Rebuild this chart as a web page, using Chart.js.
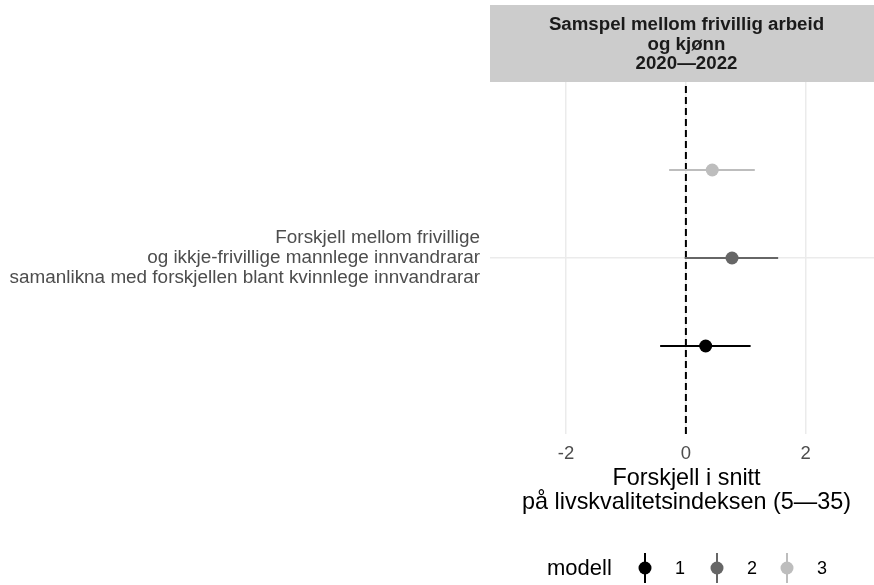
<!DOCTYPE html>
<html>
<head>
<meta charset="utf-8">
<script src="https://cdn.jsdelivr.net/npm/chart.js@4"></script>
<style>
  body { margin: 0; background: #fff; overflow: hidden; }
  /* the panel runs a few pixels past the window's right edge, as in the original */
  #wrap { width: 883px; height: 585px; position: relative; }
</style>
</head>
<body>
<div id="wrap"><canvas id="chart"></canvas></div>
<script>
// Data
const models = ['1', '2', '3'];
const estimates = [0.33, 0.77, 0.44];
const lower = [-0.43, -0.02, -0.28];
const upper = [1.08, 1.54, 1.15];
const xTicks = [-2, 0, 2];
const categoryLabel = [
  'Forskjell mellom frivillige',
  'og ikkje-frivillige mannlege innvandrarar',
  'samanlikna med forskjellen blant kvinnlege innvandrarar'
];
const stripLines = ['Samspel mellom frivillig arbeid', 'og kjønn', '2020\u20142022'];
const xTitle = ['Forskjell i snitt', 'på livskvalitetsindeksen (5\u201435)'];
const legendTitle = 'modell';

// styling
const modelColors = ['#000000', '#666666', '#bdbdbd'];
const dodge = [-0.3, 0, 0.3];
const FONT = "'Liberation Sans', Arial, sans-serif";

const datasets = [];
models.forEach((m, i) => {
  datasets.push({
    type: 'scatter',
    label: m,
    data: [{ x: estimates[i], y: 1 + dodge[i] }],
    backgroundColor: modelColors[i],
    borderColor: modelColors[i],
    pointRadius: 6.5,
    pointHoverRadius: 6.5,
    borderWidth: 0,
    order: 0
  });
  datasets.push({
    type: 'line',
    label: 'ci' + m,
    data: [{ x: lower[i], y: 1 + dodge[i] }, { x: upper[i], y: 1 + dodge[i] }],
    borderColor: modelColors[i],
    borderWidth: 2.2,
    pointRadius: 0,
    order: 1
  });
});
datasets.push({
  type: 'line',
  label: 'zero',
  data: [{ x: 0, y: 0.4 }, { x: 0, y: 1.6 }],
  borderColor: '#000',
  borderWidth: 2,
  borderDash: [7, 4],
  pointRadius: 0,
  order: 2
});

// strip header above the panel
const stripPlugin = {
  id: 'strip',
  beforeDraw(chart) {
    const { ctx, chartArea } = chart;
    ctx.save();
    ctx.fillStyle = '#cccccc';
    ctx.fillRect(chartArea.left, 5, chartArea.right - chartArea.left, 77);
    ctx.fillStyle = '#1a1a1a';
    ctx.font = 'bold 18.7px ' + FONT;
    ctx.textAlign = 'center';
    ctx.textBaseline = 'middle';
    const cx = (chartArea.left + chartArea.right) / 2;
    stripLines.forEach((t, i) => ctx.fillText(t, cx, 25 + i * 19.5));
    ctx.restore();
  }
};

// legend along the bottom
const legendPlugin = {
  id: 'bottomLegend',
  afterDraw(chart) {
    const ctx = chart.ctx;
    ctx.save();
    ctx.textBaseline = 'middle';
    ctx.fillStyle = '#000';
    ctx.font = '22px ' + FONT;
    ctx.textAlign = 'left';
    ctx.fillText(legendTitle, 547, 569);
    const keyX = [645, 717, 787];
    models.forEach((m, i) => {
      const x = keyX[i];
      ctx.strokeStyle = modelColors[i];
      ctx.lineWidth = 2;
      ctx.beginPath();
      ctx.moveTo(x, 553);
      ctx.lineTo(x, 583);
      ctx.stroke();
      ctx.fillStyle = modelColors[i];
      ctx.beginPath();
      ctx.arc(x, 568, 6.5, 0, Math.PI * 2);
      ctx.fill();
      ctx.fillStyle = '#000';
      ctx.font = '18px ' + FONT;
      ctx.textAlign = 'center';
      ctx.fillText(m, x + 35, 569);
    });
    ctx.restore();
  }
};

new Chart(document.getElementById('chart'), {
  type: 'scatter',
  data: { datasets },
  options: {
    responsive: true,
    maintainAspectRatio: false,
    animation: false,
    layout: { autoPadding: false, padding: { top: 82, right: 0, bottom: 71, left: 0 } },
    plugins: {
      legend: { display: false },
      tooltip: { enabled: false }
    },
    scales: {
      x: {
        type: 'linear',
        min: -3.27,
        max: 3.29,
        afterBuildTicks(scale) {
          scale.ticks = xTicks.map(v => ({ value: v }));
        },
        grid: { color: '#ebebeb', lineWidth: 1.5, drawTicks: false },
        border: { display: false },
        ticks: {
          color: '#4d4d4d',
          font: { family: FONT, size: 18.5, lineHeight: 1.2 },
          padding: 9,
          maxRotation: 0
        },
        title: {
          display: true,
          text: xTitle,
          color: '#000',
          font: { family: FONT, size: 23.4, lineHeight: 1.0 },
          padding: { top: -7, bottom: 0 }
        }
      },
      y: {
        type: 'linear',
        min: 0.4,
        max: 1.6,
        afterBuildTicks(scale) {
          scale.ticks = [{ value: 1 }];
        },
        afterFit(scale) {
          scale.width = 490;
        },
        grid: { color: '#ebebeb', lineWidth: 1.5, drawTicks: false },
        border: { display: false },
        ticks: {
          callback: () => categoryLabel,
          color: '#4d4d4d',
          font: { family: FONT, size: 18.9, lineHeight: 1.06 },
          padding: 10
        }
      }
    }
  },
  plugins: [stripPlugin, legendPlugin]
});
</script>
</body>
</html>
